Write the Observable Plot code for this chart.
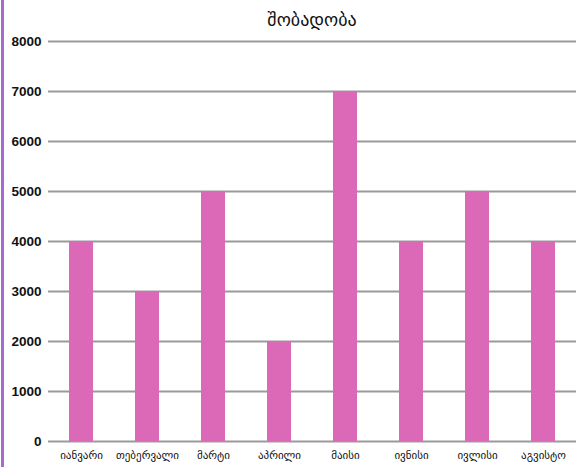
<!DOCTYPE html>
<html>
<head>
<meta charset="utf-8">
<script src="https://cdn.jsdelivr.net/npm/d3@7"></script>
<script src="https://cdn.jsdelivr.net/npm/@observablehq/plot@0.6"></script>
<style>
  html, body { margin: 0; padding: 0; background: #fff; }
  #wrap { position: relative; width: 576px; height: 467px; overflow: hidden; font-family: "DejaVu Sans", sans-serif; }
  #edge { position: absolute; left: 1px; top: 0; width: 3px; height: 467px; background: #a66bd3; }
  #title { position: absolute; left: 0; top: 0; width: 576px; height: 30px; text-align: center; font-size: 18px; line-height: 40px; padding-left: 48px; box-sizing: border-box; color: #111; }
  #chart { position: absolute; left: 0; top: 30px; }
</style>
</head>
<body>
<div id="wrap">
  <div id="title">შობადობა</div>
  <div id="chart"></div>
  <div id="edge"></div>
</div>
<script>
const months = ["იანვარი", "თებერვალი", "მარტი", "აპრილი", "მაისი", "ივნისი", "ივლისი", "აგვისტო"];
const births = [4000, 3000, 5000, 2000, 7000, 4000, 5000, 4000];
const yTicks = [0, 1000, 2000, 3000, 4000, 5000, 6000, 7000, 8000];

const data = months.map((m, i) => ({month: m, value: births[i]}));

const chart = Plot.plot({
  width: 576,
  height: 437,
  marginTop: 11,
  marginBottom: 26,
  marginLeft: 48,
  marginRight: 0,
  style: {fontFamily: "DejaVu Sans, sans-serif", background: "transparent"},
  x: {domain: months, paddingInner: 0.636, paddingOuter: 0.318, label: null},
  y: {domain: [0, 8000], label: null},
  marks: [
    Plot.ruleY(yTicks, {stroke: "#9a9a9a", strokeWidth: 2}),
    Plot.barY(data, {x: "month", y: "value", fill: "#dc68b8"}),
    Plot.axisY(yTicks, {tickSize: 0, tickPadding: 7, tickFormat: d3.format("d"), fontSize: 13.5, fontWeight: "bold", fontFamily: "Liberation Sans, Arial, sans-serif", fill: "#111", label: null}),
    Plot.axisX({tickSize: 0, tickPadding: 10, fontSize: 11, fill: "#111", label: null})
  ]
});
document.getElementById("chart").appendChild(chart);
</script>
</body>
</html>
